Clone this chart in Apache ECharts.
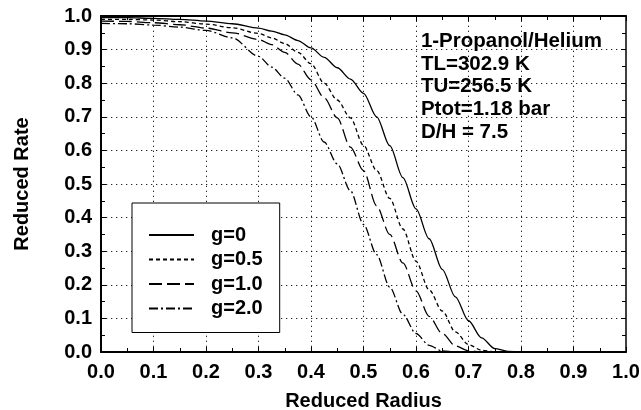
<!DOCTYPE html>
<html>
<head>
<meta charset="utf-8">
<script src="https://cdn.jsdelivr.net/npm/echarts@6/dist/echarts.min.js"></script>
<style>
html,body{margin:0;padding:0;background:#fff;}
#c{width:641px;height:410px;}
</style>
</head>
<body>
<div id="c"></div>
<script>
// Reduced radius values (x)
const radius = [0, 0.05, 0.1, 0.15, 0.2, 0.25, 0.3, 0.325, 0.35, 0.375, 0.4, 0.425, 0.45, 0.475, 0.5, 0.525, 0.55, 0.575, 0.6, 0.625, 0.65, 0.675, 0.7, 0.725, 0.75, 0.775, 0.8, 0.85, 0.9, 0.95, 1.0];
// Reduced rate for each g
const rateG0  = [0.995, 0.995, 0.993, 0.990, 0.985, 0.977, 0.964, 0.955, 0.944, 0.927, 0.905, 0.877, 0.846, 0.812, 0.770, 0.700, 0.614, 0.519, 0.426, 0.337, 0.246, 0.164, 0.093, 0.042, 0.010, 0.002, 0, 0, 0, 0, 0];
const rateG05 = [0.990, 0.990, 0.988, 0.983, 0.976, 0.965, 0.948, 0.935, 0.918, 0.892, 0.858, 0.800, 0.750, 0.697, 0.615, 0.540, 0.457, 0.366, 0.270, 0.185, 0.122, 0.060, 0.022, 0.005, 0.001, 0, 0, 0, 0, 0, 0];
const rateG10 = [0.985, 0.984, 0.980, 0.974, 0.964, 0.950, 0.930, 0.915, 0.892, 0.857, 0.810, 0.757, 0.697, 0.610, 0.540, 0.435, 0.350, 0.265, 0.182, 0.106, 0.055, 0.018, 0.004, 0, 0, 0, 0, 0, 0, 0, 0];
const rateG20 = [0.978, 0.977, 0.973, 0.967, 0.957, 0.935, 0.880, 0.848, 0.815, 0.765, 0.700, 0.625, 0.560, 0.480, 0.380, 0.290, 0.193, 0.112, 0.055, 0.020, 0.003, 0, 0, 0, 0, 0, 0, 0, 0, 0, 0];
const seriesNames = ['g=0', 'g=0.5', 'g=1.0', 'g=2.0'];
// interior grid positions (same on both axes)
const gridTicks = [0.1, 0.2, 0.3, 0.4, 0.5, 0.6, 0.7, 0.8, 0.9];
const annotationLines = ['1-Propanol/Helium', 'TL=302.9 K', 'TU=256.5 K', 'Ptot=1.18 bar', 'D/H = 7.5'];
const xTitle = 'Reduced Radius';
const yTitle = 'Reduced Rate';

const FONT = '"Liberation Sans", Arial, Helvetica, sans-serif';
const rates = [rateG0, rateG05, rateG10, rateG20];
const dashes = ['solid', [4, 3], [13, 5], [9, 3, 2, 3]];

const chart = echarts.init(document.getElementById('c'), null, {renderer: 'canvas'});

const baseAxis = {
  min: 0, max: 1, interval: 0.1,
  axisLine: {show: true, onZero: false, lineStyle: {color: '#000', width: 2}},
  axisTick: {show: true, inside: true, length: 5, lineStyle: {color: '#000', width: 1}},
  minorTick: {show: true, splitNumber: 2, length: 4, lineStyle: {color: '#000', width: 1}},
  splitLine: {show: false}
};

const gridMarkData = gridTicks.map(v => ({xAxis: v})).concat(gridTicks.map(v => ({yAxis: v})));

const series = seriesNames.map((name, i) => ({
  name: name,
  type: 'line',
  xAxisIndex: 0, yAxisIndex: 0,
  symbol: 'none',
  smooth: 0.3,
  smoothMonotone: 'x',
  z: 3,
  lineStyle: {color: '#000', width: 1.3, type: dashes[i]},
  itemStyle: {color: '#000'},
  data: radius.map((x, k) => [x, rates[i][k]])
}));
series[0].markLine = {
  silent: true,
  symbol: ['none', 'none'],
  label: {show: false},
  z: 1,
  animation: false,
  emphasis: {disabled: true},
  lineStyle: {color: '#000', width: 1, type: [1.3, 3.7], opacity: 0.85},
  data: gridMarkData
};

const option = {
  backgroundColor: '#fff',
  animation: false,
  textStyle: {fontFamily: FONT},
  grid: {left: 101, right: 15, top: 16, bottom: 58, containLabel: false, outerBoundsMode: 'none'},
  xAxis: [
    Object.assign({}, baseAxis, {
      type: 'value', position: 'bottom',
      name: xTitle, nameLocation: 'middle', nameGap: 39,
      nameTextStyle: {fontFamily: FONT, fontSize: 20, fontWeight: 'bold', color: '#000'},
      axisLabel: {show: true, margin: 10, fontFamily: FONT, fontSize: 20, fontWeight: 'bold', color: '#000',
                  formatter: v => v.toFixed(1)}
    }),
    Object.assign({}, baseAxis, {
      type: 'value', position: 'top',
      axisLabel: {show: false}
    })
  ],
  yAxis: [
    Object.assign({}, baseAxis, {
      type: 'value', position: 'left',
      name: yTitle, nameLocation: 'middle', nameGap: 69, nameRotate: 90,
      nameTextStyle: {fontFamily: FONT, fontSize: 20, fontWeight: 'bold', color: '#000'},
      axisLabel: {show: true, margin: 9, fontFamily: FONT, fontSize: 20, fontWeight: 'bold', color: '#000',
                  formatter: v => v.toFixed(1)}
    }),
    Object.assign({}, baseAxis, {
      type: 'value', position: 'right',
      axisLine: {show: true, onZero: false, lineStyle: {color: '#000', width: 1.5}},
      axisLabel: {show: false}
    })
  ],
  legend: {
    show: true,
    orient: 'vertical',
    left: 132, top: 203,
    z: 10,
    padding: [22, 17, 14, 16],
    itemGap: 4.5,
    itemWidth: 45, itemHeight: 14,
    borderColor: '#000', borderWidth: 1,
    backgroundColor: '#fff',
    itemStyle: {opacity: 0},
    textStyle: {fontFamily: FONT, fontSize: 20, fontWeight: 'bold', color: '#000', padding: [0, 0, 0, 12]},
    data: seriesNames
  },
  series: series,
  graphic: [{
    type: 'text',
    right: 39, top: 30,
    z: 100,
    style: {
      text: annotationLines.join('\n'),
      align: 'right',
      fontFamily: FONT, fontSize: 20.5, fontWeight: 'bold',
      lineHeight: 22.7,
      fill: '#000'
    }
  }]
};
chart.setOption(option);
</script>
</body>
</html>
